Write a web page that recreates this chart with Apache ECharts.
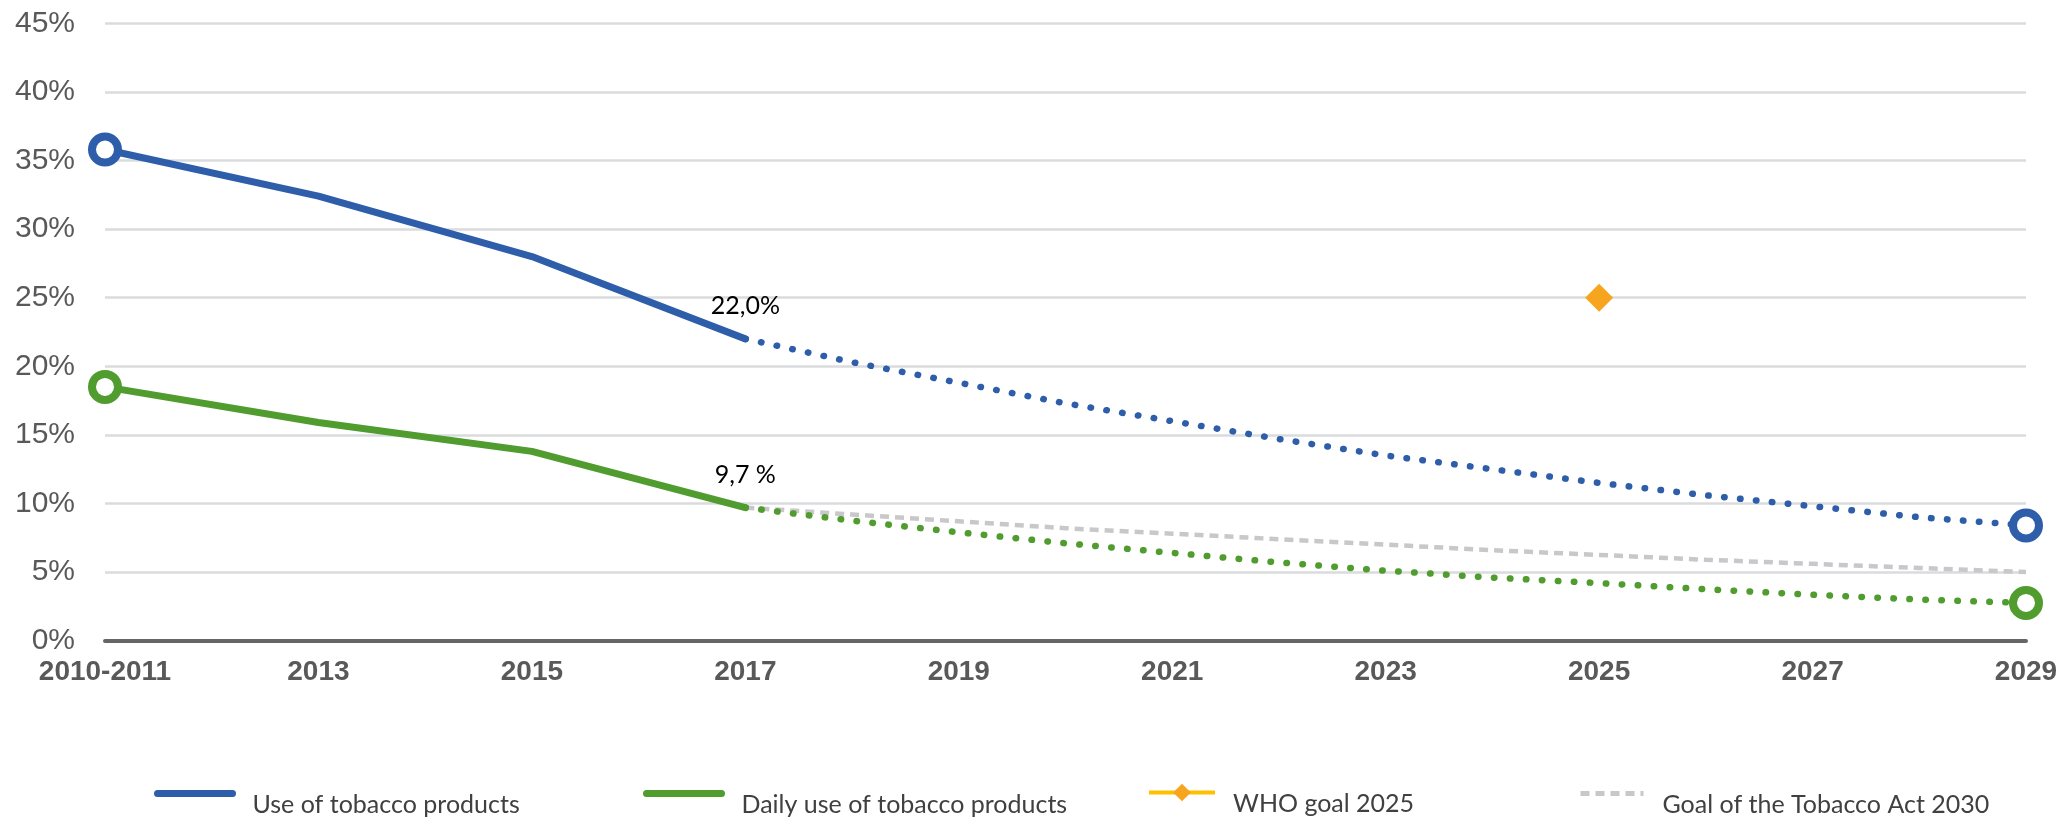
<!DOCTYPE html>
<html>
<head>
<meta charset="utf-8">
<script src="https://cdn.jsdelivr.net/npm/echarts@6/dist/echarts.min.js"></script>
<style>
html,body{margin:0;padding:0;background:#fff;}
#chart{width:2071px;height:819px;}
</style>
</head>
<body>
<div id="chart"></div>
<script>
// ---- Data ----
const categories = ['2010-2011','2012','2013','2014','2015','2016','2017','2018','2019','2020','2021','2022','2023','2024','2025','2026','2027','2028','2029'];
const yTicks = [0, 5, 10, 15, 20, 25, 30, 35, 40, 45];
const seriesNames = ['Use of tobacco products','Daily use of tobacco products','WHO goal 2025','Goal of the Tobacco Act 2030'];
// observed (2010-2011 .. 2017), nulls where no survey
const useObserved   = [35.8, null, 32.4, null, 28.0, null, 22.0];
const dailyObserved = [18.5, null, 15.9, null, 13.8, null, 9.7];
// projections 2017 .. 2029
const projectionStart = 6;
const useProjection   = [22.0, 20.3, 18.8, 17.3, 16.0, 14.7, 13.5, 12.5, 11.5, 10.6, 9.8, 9.0, 8.4];
const dailyProjection = [9.7, 8.75, 7.9, 7.1, 6.4, 5.7, 5.1, 4.6, 4.2, 3.75, 3.35, 3.0, 2.75];
const actGoal         = [9.7, 9.2, 8.7, 8.2, 7.8, 7.4, 7.0, 6.6, 6.25, 5.9, 5.6, 5.3, 5.0];
const whoGoalYear = '2025';
const whoGoalValue = 25;
const dataLabels = ['22,0%', '9,7 %'];
const labelIndex = 6;

// ---- Styles ----
const BLUE = '#2E5EAA', GREEN = '#509C2E', GRAY = '#C8C8CB', ORANGE = '#F7A51E', YELLOW = '#FFC000';
const AXIS_GRAY = '#595959';
const LEGEND_FONT = 'Lato';

function pad(arr, start) {
  const out = new Array(categories.length).fill(null);
  arr.forEach((v, i) => { out[start + i] = v; });
  return out;
}
function withLabel(arr, text) {
  return arr.map((v, i) => i === labelIndex ? {
    value: v,
    label: { show: true, formatter: text, position: 'top', distance: 20,
             color: '#000', fontSize: 25, fontFamily: LEGEND_FONT }
  } : v);
}
const endSymbol = (first) => function (v, p) {
  return (first ? p.dataIndex === 0 : p.dataIndex === categories.length - 1) ? 26 : 0;
};

const whoData = categories.map(c => c === whoGoalYear ? whoGoalValue : null);

const chart = echarts.init(document.getElementById('chart'));

function legendText(padLeft) {
  return { fontFamily: LEGEND_FONT, fontSize: 25, color: '#404040', lineHeight: 22, padding: [0, 0, 0, padLeft] };
}
function legendCfg(name, left, extra) {
  return Object.assign({
    show: true,
    data: [name],
    left: left,
    top: 770,
    orient: 'horizontal',
    padding: 0,
    itemWidth: 75,
    itemHeight: 14,
    selectedMode: false,
    formatter: '\n{name}',
    textStyle: legendText(15),
    itemStyle: { opacity: 0 }
  }, extra);
}

chart.setOption({
  animation: false,
  backgroundColor: '#fff',
  grid: { left: 105, right: 45, top: 23.3, bottom: 178.3, containLabel: false },
  xAxis: {
    type: 'category',
    data: categories,
    boundaryGap: false,
    axisLine: { show: true, lineStyle: { color: '#666666', width: 4 } },
    axisTick: { show: false },
    axisLabel: { interval: 1, color: AXIS_GRAY, fontSize: 28, fontWeight: 'bold', fontFamily: 'Liberation Sans', margin: 18 },
    splitLine: { show: false }
  },
  yAxis: {
    type: 'value',
    min: yTicks[0],
    max: yTicks[yTicks.length - 1],
    interval: yTicks[1] - yTicks[0],
    axisLine: { show: false },
    axisTick: { show: false },
    axisLabel: { formatter: '{value}%', color: AXIS_GRAY, fontSize: 30, fontFamily: 'Liberation Sans', margin: 30 },
    splitLine: { lineStyle: { color: '#D9DBDE', width: 2.5 } }
  },
  legend: [
    legendCfg(seriesNames[0], 154, { lineStyle: { width: 7, cap: 'round', color: BLUE } }),
    legendCfg(seriesNames[1], 643, { lineStyle: { width: 7, cap: 'round', color: GREEN } }),
    legendCfg(seriesNames[2], 1147, { itemWidth: 66, itemHeight: 22, top: 769,
      lineStyle: { width: 4, color: YELLOW, type: 'solid' },
      itemStyle: { opacity: 1, color: ORANGE, borderWidth: 0 },
      textStyle: legendText(13) }),
    legendCfg(seriesNames[3], 1578, { itemWidth: 63,
      lineStyle: { width: 5, color: GRAY, type: [9, 6] },
      textStyle: legendText(14) })
  ],
  series: [
    {
      name: seriesNames[3], type: 'line', data: pad(actGoal, projectionStart),
      symbol: 'none', silent: true, z: 1,
      lineStyle: { color: GRAY, width: 4.5, type: [9, 6] },
      itemStyle: { color: GRAY }
    },
    {
      name: 'use-projection', type: 'line', data: pad(useProjection, projectionStart),
      symbol: 'circle', showSymbol: true, showAllSymbol: true, symbolSize: endSymbol(false),
      silent: true, z: 2,
      itemStyle: { color: '#fff', borderColor: BLUE, borderWidth: 8 },
      lineStyle: { color: BLUE, width: 6.5, type: [0.5, 15.5], cap: 'round' }
    },
    {
      name: 'daily-projection', type: 'line', data: pad(dailyProjection, projectionStart),
      symbol: 'circle', showSymbol: true, showAllSymbol: true, symbolSize: endSymbol(false),
      silent: true, z: 2,
      itemStyle: { color: '#fff', borderColor: GREEN, borderWidth: 8 },
      lineStyle: { color: GREEN, width: 6.5, type: [0.5, 15.5], cap: 'round' }
    },
    {
      name: seriesNames[0], type: 'line', data: withLabel(useObserved, dataLabels[0]),
      connectNulls: true, symbol: 'circle', showSymbol: true, showAllSymbol: true, symbolSize: endSymbol(true),
      silent: true, z: 3,
      itemStyle: { color: '#fff', borderColor: BLUE, borderWidth: 8 },
      lineStyle: { color: BLUE, width: 7, cap: 'round', join: 'round' }
    },
    {
      name: seriesNames[1], type: 'line', data: withLabel(dailyObserved, dataLabels[1]),
      connectNulls: true, symbol: 'circle', showSymbol: true, showAllSymbol: true, symbolSize: endSymbol(true),
      silent: true, z: 3,
      itemStyle: { color: '#fff', borderColor: GREEN, borderWidth: 8 },
      lineStyle: { color: GREEN, width: 7, cap: 'round', join: 'round' }
    },
    {
      name: seriesNames[2], type: 'line', data: whoData,
      symbol: 'diamond', symbolSize: 28, showSymbol: true, showAllSymbol: true,
      silent: true, z: 4,
      itemStyle: { color: ORANGE },
      lineStyle: { color: YELLOW, width: 4 }
    }
  ]
});
</script>
</body>
</html>
